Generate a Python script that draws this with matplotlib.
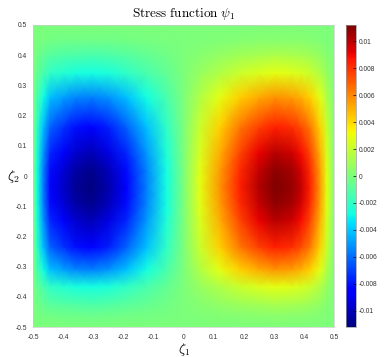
import numpy as np
import matplotlib
matplotlib.use('Agg')
import matplotlib.pyplot as plt
from matplotlib.ticker import FuncFormatter

plt.rcParams['font.family'] = ['Liberation Sans', 'DejaVu Sans']
plt.rcParams['mathtext.fontset'] = 'cm'

# profiles (normalised by the peak value)
zeta1 = [-0.5, -0.488, -0.468, -0.445, -0.40, -0.36, -0.306, -0.25, -0.19, -0.123, -0.057, 0.0,
         0.054, 0.12, 0.187, 0.25, 0.304, 0.36, 0.39, 0.42, 0.453, 0.476, 0.5]
psi_row = [0, -0.25, -0.5, -0.75, -0.87, -0.96, -1.0, -0.92, -0.75, -0.5, -0.25, 0,
           0.25, 0.5, 0.75, 0.91, 1.0, 0.96, 0.88, 0.75, 0.5, 0.25, 0]
zeta2 = [-0.5, -0.46, -0.42, -0.366, -0.31, -0.235, -0.146, -0.09, -0.036, 0.02, 0.076,
         0.162, 0.262, 0.341, 0.40, 0.45, 0.5]
psi_col = [0, 0.04, 0.12, 0.25, 0.5, 0.75, 0.9, 0.97, 1.0, 0.97, 0.9,
           0.75, 0.5, 0.25, 0.12, 0.03, 0]
psi_max = 0.0112

axis_ticks = [-0.5, -0.4, -0.3, -0.2, -0.1, 0, 0.1, 0.2, 0.3, 0.4, 0.5]
cbar_ticks = [-0.01, -0.008, -0.006, -0.004, -0.002, 0, 0.002, 0.004, 0.006, 0.008, 0.01]

Z = psi_max * np.outer(psi_col, psi_row)

fig = plt.figure(figsize=(3.89, 3.57), dpi=100)
ax = fig.add_axes([0.0861, 0.084, 0.7725, 0.846])
cax = fig.add_axes([0.8887, 0.084, 0.0265, 0.846])

mesh = ax.pcolormesh(zeta1, zeta2, Z, cmap='jet', shading='gouraud',
                     vmin=-psi_max, vmax=psi_max)
ax.set_xlim(-0.5, 0.5)
ax.set_ylim(-0.5, 0.5)

fmt = FuncFormatter(lambda v, p: '%g' % round(v, 4))
ax.set_xticks(axis_ticks)
ax.set_yticks(axis_ticks)
ax.xaxis.set_major_formatter(fmt)
ax.yaxis.set_major_formatter(fmt)
ax.tick_params(length=0, labelsize=4.8, labelcolor='#333333')
ax.tick_params(axis='x', pad=5)
ax.tick_params(axis='y', pad=4.5)
for s in ax.spines.values():
    s.set_color('#cccccc')
    s.set_linewidth(0.5)

ax.set_title(r'$\mathrm{Stress\ function}\ \psi_1$', fontsize=9.5, pad=6)
ax.set_xlabel(r'$\zeta_1$', fontsize=10)
ax.set_ylabel(r'$\zeta_2$', fontsize=10, rotation=0)
ax.xaxis.set_label_coords(0.5, -0.076)
ax.xaxis.label.set_va('center')
ax.yaxis.set_label_coords(-0.068, 0.5)
ax.yaxis.label.set_va('center')
ax.yaxis.label.set_ha('center')

cb = fig.colorbar(mesh, cax=cax, ticks=cbar_ticks)
cb.ax.yaxis.set_major_formatter(fmt)
cb.ax.tick_params(direction='in', length=2, width=0.5, labelsize=4.8,
                  labelcolor='#333333', pad=2)
cb.outline.set_edgecolor('#999999')
cb.outline.set_linewidth(0.5)

fig.savefig('out.png', dpi=100)
